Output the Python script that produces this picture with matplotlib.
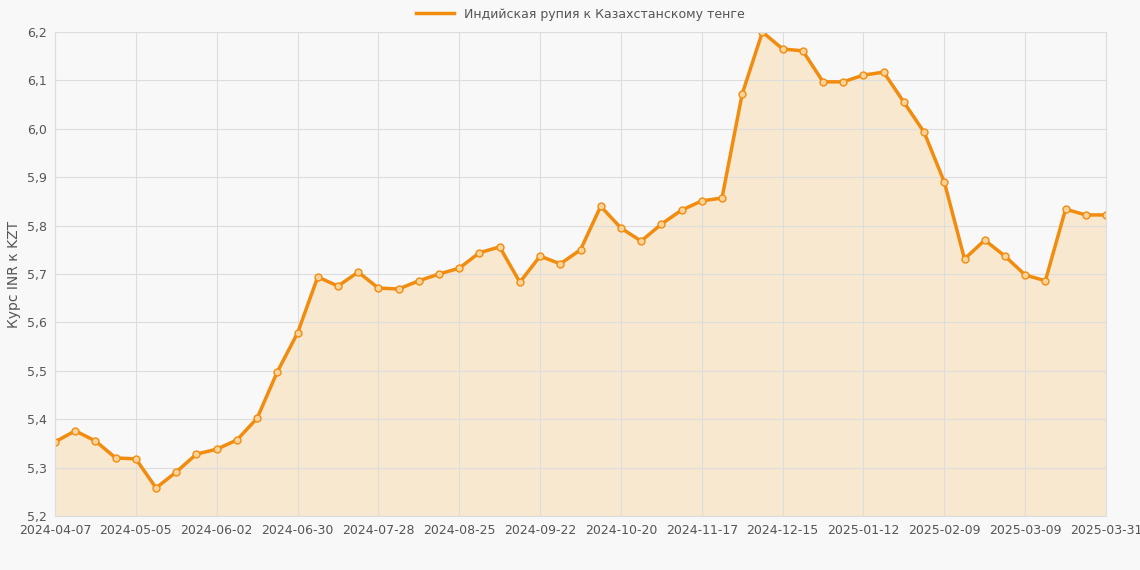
import matplotlib.pyplot as plt
from matplotlib.ticker import FuncFormatter

rates = [5.353, 5.376, 5.355, 5.320, 5.318, 5.258, 5.291, 5.328, 5.338, 5.357,
         5.402, 5.498, 5.578, 5.694, 5.675, 5.704, 5.671, 5.669, 5.686, 5.700,
         5.712, 5.744, 5.756, 5.683, 5.737, 5.721, 5.750, 5.840, 5.795, 5.768,
         5.803, 5.832, 5.851, 5.857, 6.072, 6.200, 6.165, 6.161, 6.097, 6.097,
         6.111, 6.117, 6.055, 5.993, 5.890, 5.731, 5.770, 5.737, 5.698, 5.686,
         5.834, 5.822, 5.822]
tick_pos = [0, 4, 8, 12, 16, 20, 24, 28, 32, 36, 40, 44, 48, 52]
tick_labels = ['2024-04-07', '2024-05-05', '2024-06-02', '2024-06-30', '2024-07-28',
               '2024-08-25', '2024-09-22', '2024-10-20', '2024-11-17', '2024-12-15',
               '2025-01-12', '2025-02-09', '2025-03-09', '2025-03-31']

x = list(range(len(rates)))
color = '#f28c0f'

fig = plt.figure(figsize=(11.4, 5.7), dpi=100, facecolor='#f8f8f8')
ax = fig.add_axes([55/1140, 54/570, 1051/1140, 484/570], facecolor='#f8f8f8')
ax.fill_between(x, rates, 5.2, color='#f8e4c6', alpha=0.8, linewidth=0)
ax.plot(x, rates, color=color, linewidth=2.5, marker='o', markersize=5,
        markerfacecolor='#f8d49a', markeredgecolor=color, markeredgewidth=1,
        label='Индийская рупия к Казахстанскому тенге')

ax.set_xlim(0, len(rates) - 1)
ax.set_ylim(5.2, 6.2)
ax.set_xticks(tick_pos)
ax.set_xticklabels(tick_labels)
ax.set_yticks([5.2 + 0.1 * i for i in range(11)])
ax.yaxis.set_major_formatter(FuncFormatter(lambda v, p: f'{v:.1f}'.replace('.', ',')))
ax.tick_params(colors='#555555', labelsize=9, length=0, pad=6)
ax.set_xticks(x, minor=False) if False else None
ax.grid(True, color='#dddddd', linewidth=0.8)
for s in ax.spines.values():
    s.set_color('#dddddd')
ax.set_ylabel('Курс INR к KZT', color='#555555', fontsize=10)

ax.legend(loc='lower center', bbox_to_anchor=(0.5, 1.0), frameon=False, fontsize=9,
          labelcolor='#555555', handlelength=3, handleheight=0.9)
leg = ax.get_legend()
h = leg.legend_handles[0]
h.set_marker('')

plt.savefig('out.png', dpi=100, facecolor=fig.get_facecolor())
